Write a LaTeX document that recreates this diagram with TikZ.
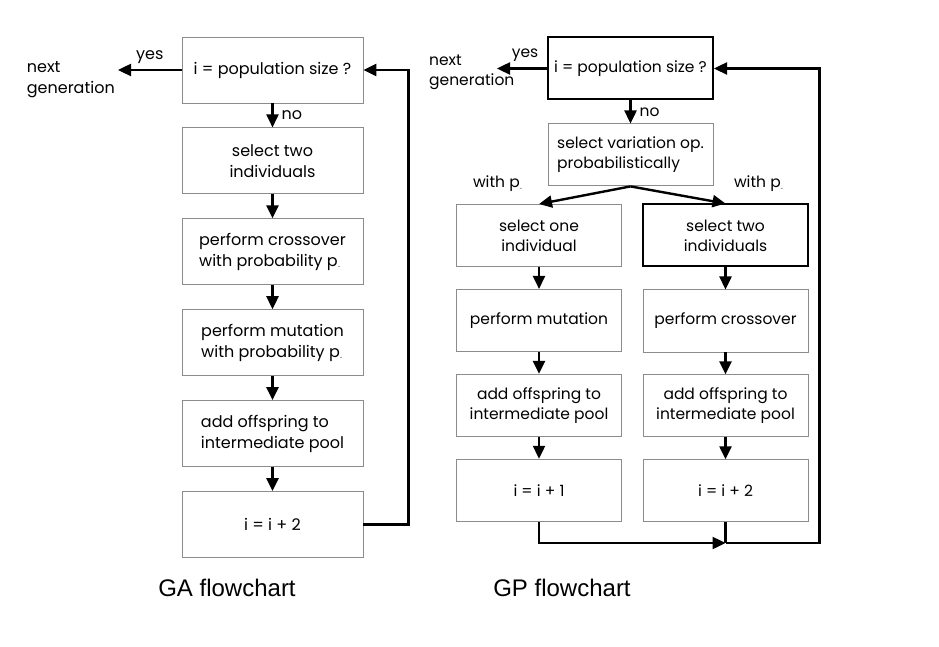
\documentclass[tikz,border=0pt]{standalone}
\usepackage{fontspec}
\setmainfont{Poppins}
\newfontfamily\capfont{Liberation Sans}
\usetikzlibrary{arrows.meta,positioning}
\newcommand\psub{p\textsubscript{\tiny -}}

\tikzset{
  flow/.style={-{Triangle[length=13pt,width=12pt]}, line width=2.4pt},
  wire/.style={line width=2.4pt},
  stage/.style={draw=black!45, line width=0.9pt, inner sep=2pt, align=center},
  bold/.style={draw=black, line width=2pt},
  gabox/.style={stage, minimum width=181pt, minimum height=66pt,
    font=\fontsize{16}{21}\selectfont},
  gpbox/.style={stage, minimum width=165pt, minimum height=62pt,
    font=\fontsize{15.5}{20}\selectfont},
  note/.style={font=\fontsize{16}{21}\selectfont, inner sep=1pt},
  gpnote/.style={font=\fontsize{15.5}{20}\selectfont, inner sep=1pt}
}

\begin{document}
\begin{tikzpicture}[x=1pt, y=1pt]
  \useasboundingbox (0,0) rectangle (939,646);

  % GA flowchart
  \begin{scope}[node distance=24pt]
    \node[gabox] (ga1) at (272.5,576) {i = population size ?};
    \node[gabox] (ga2) [below=of ga1] {select two\\individuals};
    \node[gabox, align=left] (ga3) [below=of ga2] {perform crossover\\with probability \psub};
    \node[gabox, align=left] (ga4) [below=of ga3] {perform mutation\\with probability \psub};
    \node[gabox, align=left] (ga5) [below=of ga4] {add offspring to\\intermediate pool};
    \node[gabox] (ga6) [below=of ga5] {i = i + 2};
  \end{scope}
  \draw[flow] (ga1) -- node[note, right=7pt] {no} (ga2);
  \draw[flow] (ga2) -- (ga3);
  \draw[flow] (ga3) -- (ga4);
  \draw[flow] (ga4) -- (ga5);
  \draw[flow] (ga5) -- (ga6);
  \draw[flow] (ga6.east) -- ++(45,0) |- (ga1.east);
  \coordinate (gaout) at (118,576);
  \draw[flow] (ga1.west) -- node[note, above=4pt] {yes} (gaout);
  \node[note, align=left, anchor=east] (ganext) at ([xshift=-2pt,yshift=-10pt]gaout) {next\\generation};

  % GP flowchart
  \node[gpbox, bold] (gp1) at (630.5,577.5) {i = population size ?};
  \node[gpbox, align=left] (gp2) [below=23pt of gp1] {select variation op.\\probabilistically};
  \begin{scope}[node distance=22pt]
    \node[gpbox] (gpl1) at (539,410.5) {select one\\individual};
    \node[gpbox] (gpl2) [below=of gpl1] {perform mutation};
    \node[gpbox] (gpl3) [below=of gpl2] {add offspring to\\intermediate pool};
    \node[gpbox] (gpl4) [below=of gpl3] {i = i + 1};
    \node[gpbox, bold] (gpr1) at (725.5,410.5) {select two\\individuals};
    \node[gpbox] (gpr2) [below=of gpr1] {perform crossover};
    \node[gpbox] (gpr3) [below=of gpr2] {add offspring to\\intermediate pool};
    \node[gpbox] (gpr4) [below=of gpr3] {i = i + 2};
  \end{scope}
  \draw[flow] (gp1) -- node[gpnote, right=7pt] {no} (gp2);
  \draw[flow] (gp2.south) -- (gpl1.north);
  \draw[flow] (gp2.south) -- (gpr1.north);
  \node[gpnote] (gpwl) at (498,462) {with \psub};
  \node[gpnote] (gpwr) at (759,462) {with \psub};
  \draw[flow] (gpl1) -- (gpl2);
  \draw[flow] (gpl2) -- (gpl3);
  \draw[flow] (gpl3) -- (gpl4);
  \draw[flow] (gpr1) -- (gpr2);
  \draw[flow] (gpr2) -- (gpr3);
  \draw[flow] (gpr3) -- (gpr4);
  \coordinate (gpjoin) at (gpr4.south |- 0,103);
  \draw[flow] (gpl4.south) |- (gpjoin);
  \draw[wire] (gpr4.south) -- (gpjoin);
  \draw[flow] (gpjoin) -- ++(94,0) |- (gp1.east);
  \coordinate (gpout) at (497,577.5);
  \draw[flow] (gp1.west) -- node[gpnote, above=5pt, xshift=3pt] {yes} (gpout);
  \node[gpnote, align=left, anchor=west] (gpnext) at (428,574) {next\\generation};

  % captions
  \node[font=\capfont\fontsize{24}{28}\selectfont] (gacap) at (227,58) {GA flowchart};
  \node[font=\capfont\fontsize{24}{28}\selectfont] (gpcap) at (562,58) {GP flowchart};
\end{tikzpicture}
\end{document}
